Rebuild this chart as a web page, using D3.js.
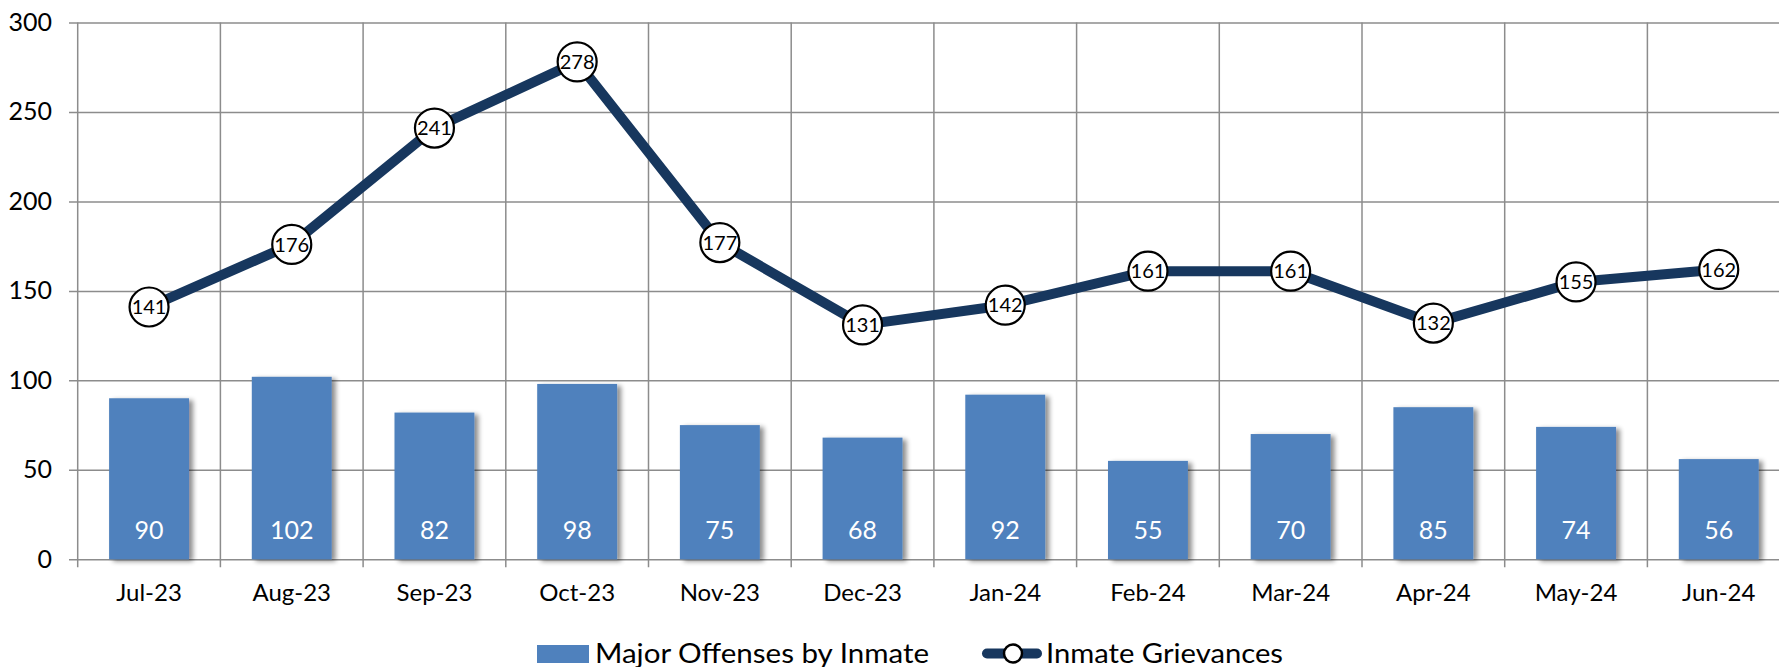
<!DOCTYPE html>
<meta charset="utf-8">
<style>
body { margin: 0; background: #fff; }
svg text { font-family: Lato, "Open Sans", sans-serif; }
.grid line, .grid path { stroke: #8c8c8c; stroke-width: 1.5px; }
.tick text { fill: #000; }
</style>
<body>
<script src="https://d3js.org/d3.v7.min.js"></script>
<script>

var width = 1779, height = 667;

var months = ["Jul-23", "Aug-23", "Sep-23", "Oct-23", "Nov-23", "Dec-23",
              "Jan-24", "Feb-24", "Mar-24", "Apr-24", "May-24", "Jun-24"];
var offenses = [90, 102, 82, 98, 75, 68, 92, 55, 70, 85, 74, 56];
var grievances = [141, 176, 241, 278, 177, 131, 142, 161, 161, 132, 155, 162];
var yTicks = [0, 50, 100, 150, 200, 250, 300];

var plotLeft = 77.7, plotTop = 22.5, plotBottom = 559.3;
var step = 142.7;

var x = d3.scaleBand()
    .domain(months)
    .range([plotLeft, plotLeft + step * months.length]);

var y = d3.scaleLinear()
    .domain([0, 300])
    .range([plotBottom, plotTop]);

var svg = d3.select("body").append("svg")
    .attr("width", width)
    .attr("height", height);

var defs = svg.append("defs");
var shadow = defs.append("filter").attr("id", "shadow")
    .attr("x", "-20%").attr("y", "-20%").attr("width", "150%").attr("height", "150%");
shadow.append("feGaussianBlur").attr("in", "SourceAlpha").attr("stdDeviation", 2.5);
shadow.append("feOffset").attr("dx", 4).attr("dy", 2).attr("result", "b");
shadow.append("feComponentTransfer").append("feFuncA").attr("type", "linear").attr("slope", 0.45);
var merge = shadow.append("feMerge");
merge.append("feMergeNode");
merge.append("feMergeNode").attr("in", "SourceGraphic");

// horizontal gridlines + y labels
var yAxis = svg.append("g")
    .attr("class", "grid")
    .attr("transform", "translate(" + (width + 20) + ",0)")
    .call(d3.axisLeft(y).tickValues(yTicks).tickSize(width + 20 - 69).tickPadding(17));
yAxis.select(".domain").remove();
yAxis.selectAll("text").style("font-size", "25px");

// vertical gridlines
var bounds = months.map(function(m) { return x(m); }).concat([x.range()[1]]);
svg.append("g").attr("class", "grid")
  .selectAll("line")
  .data(bounds)
  .enter().append("line")
    .attr("x1", function(d) { return d; })
    .attr("x2", function(d) { return d; })
    .attr("y1", plotTop)
    .attr("y2", plotBottom + 8);

// x labels
svg.append("g").selectAll("text")
  .data(months)
  .enter().append("text")
    .attr("x", function(d) { return x(d) + x.bandwidth() / 2; })
    .attr("y", 601)
    .attr("text-anchor", "middle")
    .style("font-size", "24px")
    .text(function(d) { return d; });

// bars
var barW = x.bandwidth() * 0.56;
var bars = svg.append("g");
bars.selectAll("rect")
  .data(offenses)
  .enter().append("rect")
    .attr("x", function(d, i) { return x(months[i]) + (x.bandwidth() - barW) / 2; })
    .attr("y", function(d) { return y(d); })
    .attr("width", barW)
    .attr("height", function(d) { return y(0) - y(d); })
    .attr("fill", "#4f81bd")
    .attr("filter", "url(#shadow)");

bars.selectAll("text")
  .data(offenses)
  .enter().append("text")
    .attr("x", function(d, i) { return x(months[i]) + x.bandwidth() / 2; })
    .attr("y", y(0) - 20)
    .attr("text-anchor", "middle")
    .attr("fill", "#fff")
    .style("font-size", "25px")
    .text(function(d) { return d; });

// line
var line = d3.line()
    .x(function(d, i) { return x(months[i]) + x.bandwidth() / 2; })
    .y(function(d) { return y(d); });

svg.append("path")
    .datum(grievances)
    .attr("d", line)
    .attr("fill", "none")
    .attr("stroke", "#17375e")
    .attr("stroke-width", 10)
    .attr("stroke-linejoin", "round");

var pts = svg.append("g").selectAll("g")
  .data(grievances)
  .enter().append("g")
    .attr("transform", function(d, i) {
      return "translate(" + (x(months[i]) + x.bandwidth() / 2) + "," + y(d) + ")";
    });
pts.append("circle")
    .attr("r", 19.5)
    .attr("fill", "#fff")
    .attr("stroke", "#000")
    .attr("stroke-width", 2.2);
pts.append("text")
    .attr("text-anchor", "middle")
    .attr("dy", "0.36em")
    .style("font-size", "20px")
    .text(function(d) { return d; });

// legend
var lg = svg.append("g");
lg.append("rect")
    .attr("x", 537).attr("y", 645)
    .attr("width", 52).attr("height", 18)
    .attr("fill", "#4f81bd");
lg.append("text")
    .attr("x", 595).attr("y", 663)
    .style("font-size", "27px")
    .attr("textLength", 334).attr("lengthAdjust", "spacingAndGlyphs")
    .text("Major Offenses by Inmate");
lg.append("line")
    .attr("x1", 987).attr("x2", 1037)
    .attr("y1", 653.5).attr("y2", 653.5)
    .attr("stroke", "#17375e")
    .attr("stroke-width", 10)
    .attr("stroke-linecap", "round");
lg.append("circle")
    .attr("cx", 1013).attr("cy", 653.5).attr("r", 9)
    .attr("fill", "#fff").attr("stroke", "#000").attr("stroke-width", 2.5);
lg.append("text")
    .attr("x", 1046).attr("y", 663)
    .style("font-size", "27px")
    .attr("textLength", 237).attr("lengthAdjust", "spacingAndGlyphs")
    .text("Inmate Grievances");

</script>
</body>
